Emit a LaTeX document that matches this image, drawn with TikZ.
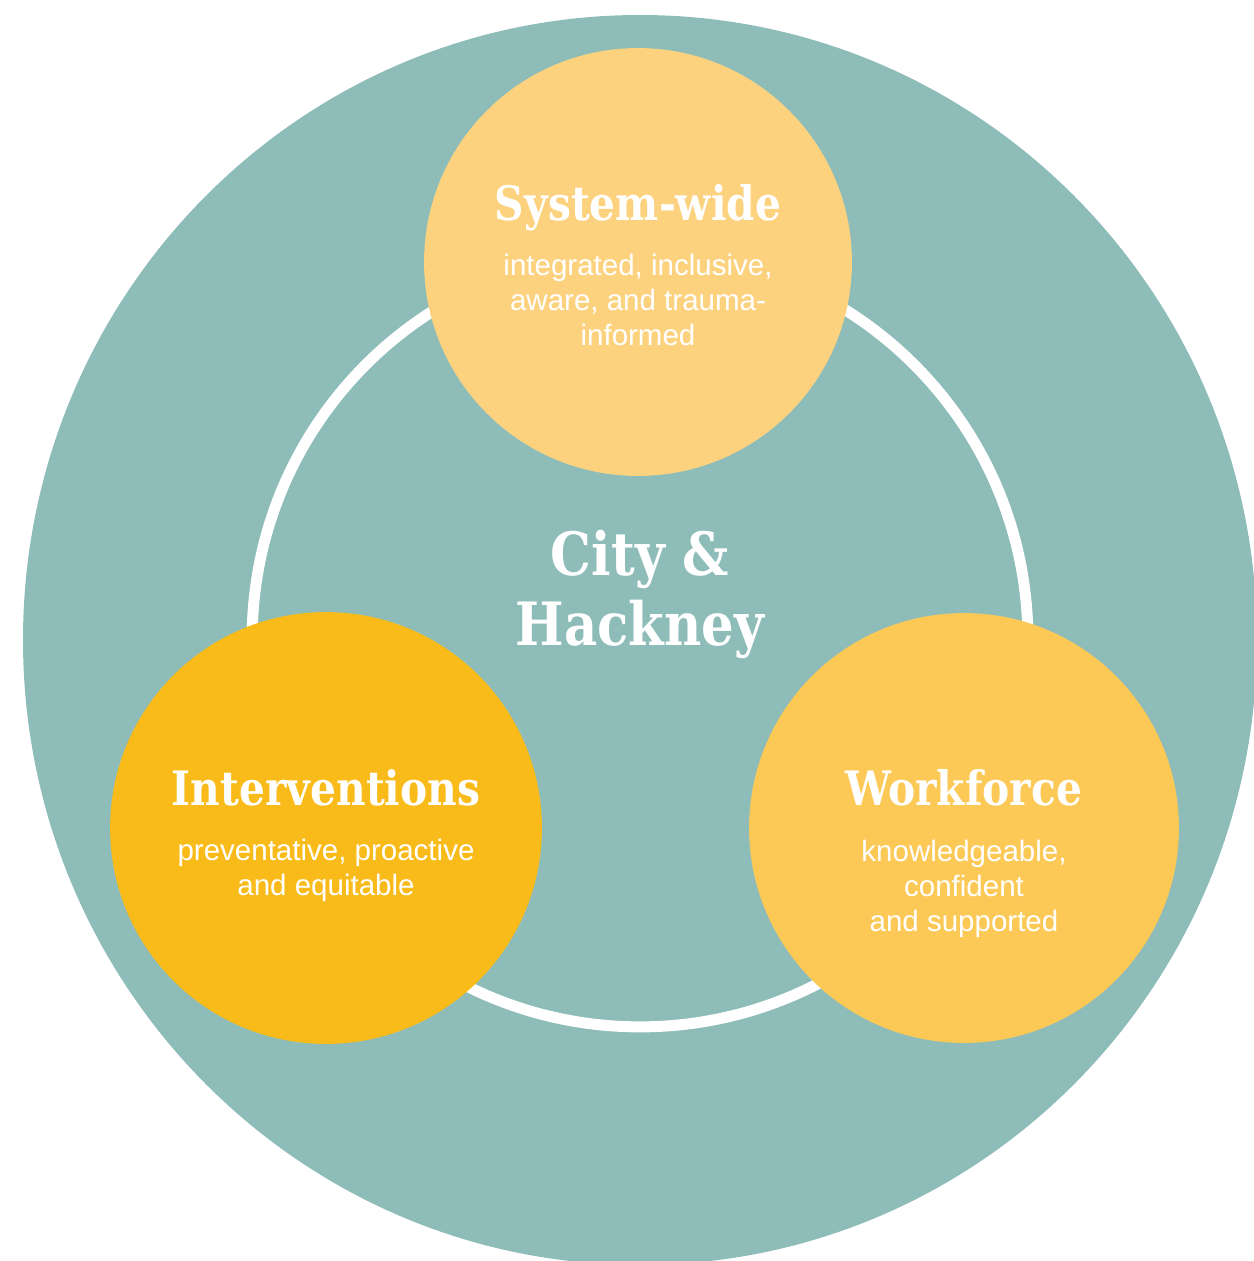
\documentclass[tikz,border=0pt]{standalone}
\usepackage{fontspec}
\setmainfont{Liberation Sans}
\newfontfamily\titlefont[FakeStretch=0.86]{DejaVu Serif}
\definecolor{teal}{HTML}{8DBCB9}
\definecolor{topc}{HTML}{FDD27F}
\definecolor{leftc}{HTML}{F9BB19}
\definecolor{rightc}{HTML}{FCC957}
\begin{document}
\begin{tikzpicture}[x=0.02cm,y=-0.02cm,
  title/.style={text=white,font=\titlefont\bfseries\fontsize{27}{33}\selectfont,inner sep=0pt,anchor=base},
  body/.style={text=white,font=\fontsize{16.8}{19.9}\selectfont,align=center,inner sep=0pt,anchor=base},
  center/.style={text=white,font=\titlefont\bfseries\fontsize{34}{39.8}\selectfont,align=center,inner sep=0pt,anchor=base},
  disc/.style={circle,inner sep=0pt,minimum size=#1*0.04cm}]
\useasboundingbox (0,0) rectangle (1254,1261);
\begin{scope}
\clip (0,0) rectangle (1254,1261);
\fill[teal] (640,640) ellipse [x radius=617, y radius=625];
\end{scope}
\node[disc=388,draw=white,line width=0.22cm] (ring) at (640,639) {};
\node[disc=214,fill=topc] (top) at (638,262) {};
\node[disc=216,fill=leftc] (left) at (326,828) {};
\node[disc=215,fill=rightc] (right) at (964,828) {};
\node[title] (toptitle) at (638,220) {System-wide};
\node[body] (topbody) at (638,345) {integrated, inclusive,\\aware, and trauma-\\informed};
\node[title] (lefttitle) at (326,805) {Interventions};
\node[body] (leftbody) at (326,895) {preventative, proactive\\and equitable};
\node[title] (righttitle) at (964,805) {Workforce};
\node[body] (rightbody) at (964,931) {knowledgeable,\\confident\\and supported};
\node[center] (city) at (640,645) {City \&\\Hackney};
\end{tikzpicture}
\end{document}
